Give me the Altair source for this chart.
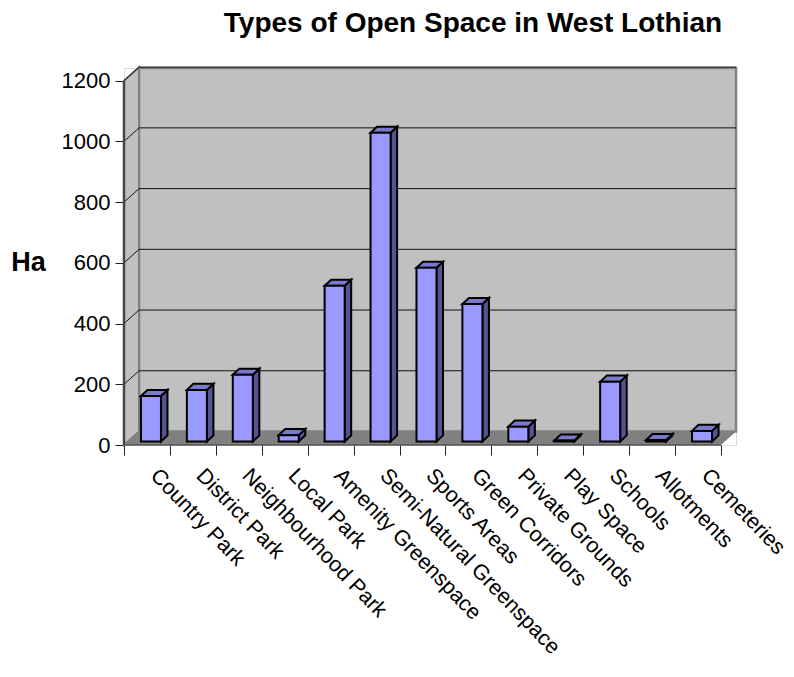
import altair as alt
import pandas as pd

categories = ["Country Park", "District Park", "Neighbourhood Park", "Local Park",
              "Amenity Greenspace", "Semi-Natural Greenspace", "Sports Areas",
              "Green Corridors", "Private Grounds", "Play Space", "Schools",
              "Allotments", "Cemeteries"]
values = [150, 170, 220, 21, 513, 1017, 572, 453, 49, 3, 197, 5, 35]
y_ticks = [0, 200, 400, 600, 800, 1000, 1200]

# 3-D projection expressed in data units
N = len(categories)
WALL_DX, WALL_DY = 0.327, 44.5
BAR_W = 0.436
BAR_OFF_X, BAR_OFF_Y = 0.087, 11.5
BAR_DX, BAR_DY = 0.142, 20
X_MAX, Y_MAX = N + WALL_DX, 1241.7

xs = alt.Scale(domain=[0, X_MAX], nice=False, zero=False)
ys = alt.Scale(domain=[0, Y_MAX], nice=False, zero=False)
X = lambda **k: alt.X("x:Q", scale=xs, title=None, **k)
Y = lambda **k: alt.Y("y:Q", scale=ys, **k)

FRONT, SIDE, TOP = "#9999FF", "#54548F", "#7A7ACC"
WALL, FLOOR, EDGE = "#C0C0C0", "#808080", "#808080"

# back wall
wall = alt.Chart(pd.DataFrame([{"x": WALL_DX, "x2": X_MAX, "y": WALL_DY, "y2": Y_MAX}])).mark_rect(
    color=WALL, stroke=EDGE, strokeWidth=2.5, clip=False
).encode(
    x=X(axis=alt.Axis(values=list(range(N + 1)), labels=False, domain=False, grid=False,
                      ticks=True, tickSize=10, tickColor="#222222", tickWidth=1)),
    x2="x2:Q",
    y=Y(axis=alt.Axis(values=y_ticks, format="d", domain=False, grid=False, tickSize=9, tickColor="#222222",
                      tickWidth=1, labelFontSize=22, labelFont="Liberation Sans", labelColor="#000000",
                      labelPadding=5, title="Ha", titleAngle=0, titleFontSize=27,
                      titleFont="Liberation Sans", titleFontWeight="bold", titleColor="#000000",
                      titleX=-96, titleY=194, titleAlign="center", titleBaseline="middle")),
    y2="y2:Q",
)

# left side wall
side_wall = alt.Chart(pd.DataFrame([
    {"x": 0, "y": 0, "y2": y_ticks[-1]},
    {"x": WALL_DX, "y": WALL_DY, "y2": y_ticks[-1] + WALL_DY},
])).mark_area(color=WALL, stroke=EDGE, strokeWidth=2, orient="vertical").encode(
    x=X(), y=Y(), y2="y2:Q")

# floor
floor = alt.Chart(pd.DataFrame([
    {"y": 0, "x": 0, "x2": N},
    {"y": WALL_DY, "x": WALL_DX, "x2": X_MAX},
])).mark_area(color=FLOOR, orient="horizontal").encode(
    y=Y(), x=X(), x2="x2:Q")

# gridlines, running across side wall and back wall
grid_rows = []
for v in y_ticks[1:]:
    grid_rows += [{"x": 0, "y": v, "g": v},
                  {"x": WALL_DX, "y": v + WALL_DY, "g": v},
                  {"x": X_MAX, "y": v + WALL_DY, "g": v}]
grid = alt.Chart(pd.DataFrame(grid_rows)).mark_line(color="#111111", strokeWidth=1).encode(
    x=X(), y=Y(), detail="g:N", order="x:Q")

# bars
front_rows, side_rows, top_rows = [], [], []
for i, (c, v) in enumerate(zip(categories, values)):
    x0 = i + (1 - BAR_W) / 2 + BAR_OFF_X
    x1 = x0 + BAR_W
    b = BAR_OFF_Y
    front_rows.append({"c": c, "x": x0, "x2": x1, "y": b, "y2": b + v})
    side_rows += [{"c": c, "x": x1, "y": b, "y2": b + v},
                  {"c": c, "x": x1 + BAR_DX, "y": b + BAR_DY, "y2": b + v + BAR_DY}]
    top_rows += [{"c": c, "y": b + v, "x": x0, "x2": x1},
                 {"c": c, "y": b + v + BAR_DY, "x": x0 + BAR_DX, "x2": x1 + BAR_DX}]

bar_side = alt.Chart(pd.DataFrame(side_rows)).mark_area(
    color=SIDE, stroke="#000000", strokeWidth=2, orient="vertical").encode(
    x=X(), y=Y(), y2="y2:Q", detail="c:N")
bar_top = alt.Chart(pd.DataFrame(top_rows)).mark_area(
    color=TOP, stroke="#000000", strokeWidth=2, orient="horizontal").encode(
    y=Y(), x=X(), x2="x2:Q", detail="c:N")
bar_front = alt.Chart(pd.DataFrame(front_rows)).mark_rect(
    color=FRONT, stroke="#000000", strokeWidth=2).encode(
    x=X(), x2="x2:Q", y=Y(), y2="y2:Q")

# axis lines
axis_y = alt.Chart(pd.DataFrame([{"x": 0, "y": 0}, {"x": 0, "y": y_ticks[-1]}])).mark_line(
    color="#444444", strokeWidth=2.5).encode(x=X(), y=Y())
axis_x = alt.Chart(pd.DataFrame([{"x": 0, "y": 0}, {"x": N, "y": 0}])).mark_line(
    color="#555555", strokeWidth=1.5).encode(x=X(), y=Y())

# rotated category labels
labels = alt.Chart(pd.DataFrame([{"x": i + 0.5, "y": 0, "t": c} for i, c in enumerate(categories)])).mark_text(
    angle=46, align="left", baseline="middle", dx=24.5, dy=14.3, fontSize=21.5,
    font="Liberation Sans", color="#000000").encode(x=X(), y=Y(), text="t:N")

chart = alt.layer(wall, side_wall, floor, grid, bar_side, bar_top, bar_front, axis_y, axis_x, labels).properties(
    width=612, height=377,
    padding={"left": 116, "top": 60, "right": 50, "bottom": 224},
    autosize=alt.AutoSizeParams(type="none"),
    title=alt.TitleParams("Types of Open Space in West Lothian", font="Liberation Sans", fontSize=28,
                          fontWeight="bold", color="#000000", anchor="middle", dx=43, offset=25),
).configure_view(stroke=None).configure(background="#FFFFFF")

chart.save("out.html", embed_options={"renderer": "svg", "actions": False})
